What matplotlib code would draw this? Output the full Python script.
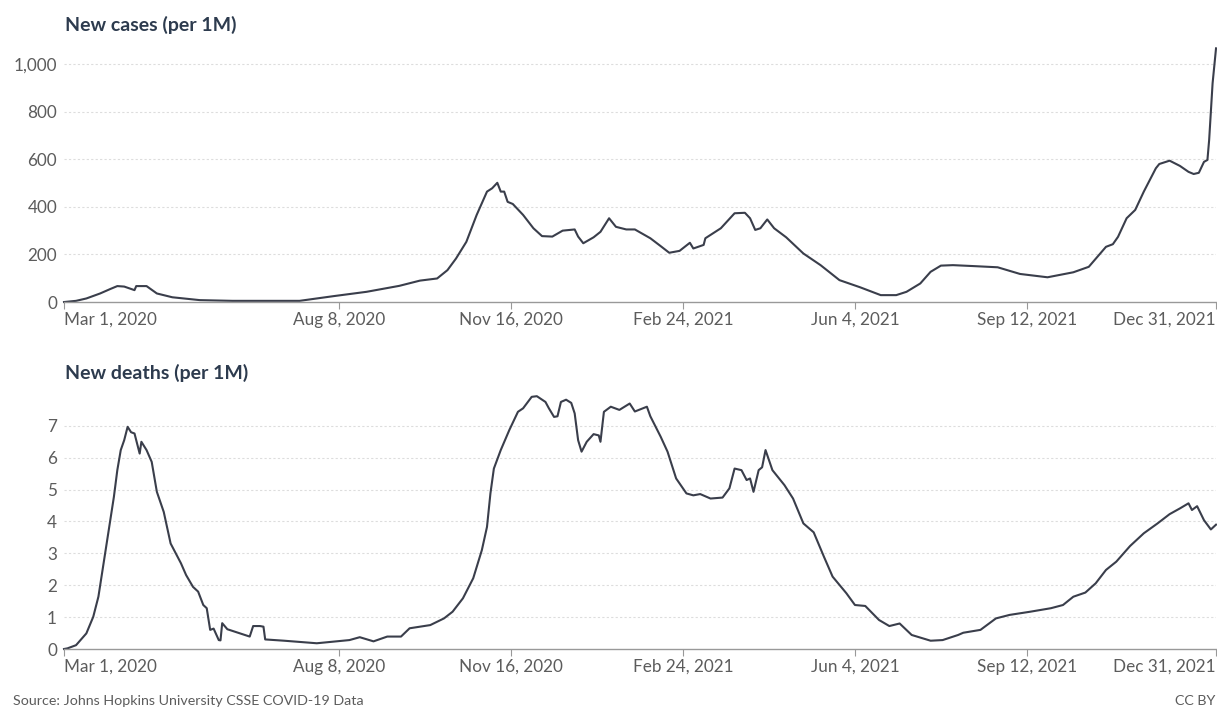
import numpy as np
import matplotlib
matplotlib.use("Agg")
import matplotlib.pyplot as plt
import matplotlib.dates as mdates

plt.rcParams["font.family"] = ["Lato", "DejaVu Sans"]

START = np.datetime64("2020-03-01")

# daily new cases per million, sampled at day offsets from Mar 1, 2020
case_days = [0, 7, 13, 21, 27, 31, 35, 41, 42, 48, 54, 63, 79, 98, 137, 157,
             176, 195, 207, 217, 223, 228, 234, 240, 246, 249, 252, 254, 256,
             258, 261, 267, 273, 278, 284, 290, 297, 299, 302, 308, 312, 317,
             321, 327, 332, 341, 347, 352, 358, 364, 366, 372, 373, 382, 390,
             396, 399, 402, 405, 409, 413, 420, 430, 440, 451, 463, 475, 484,
             490, 498, 504, 510, 517, 529, 543, 556, 572, 587, 596, 601, 606,
             610, 613, 618, 623, 628, 635, 637, 643, 649, 654, 657, 660, 663,
             665, 666, 668, 670]
case_values = [0, 5, 15, 36, 55, 67, 65, 50, 67, 67, 36, 20, 8, 5, 5, 25,
               43, 68, 90, 99, 134, 183, 253, 366, 464, 478, 501, 464, 464,
               421, 412, 366, 310, 277, 275, 300, 305, 275, 247, 272, 295, 352,
               316, 305, 305, 268, 235, 207, 215, 249, 225, 240, 268, 310, 373,
               375, 352, 303, 310, 347, 310, 272, 204, 155, 92, 62, 29, 29,
               43, 78, 127, 153, 155, 151, 146, 118, 104, 125, 148, 190, 232,
               243, 274, 352, 387, 464, 562, 580, 594, 572, 547, 538, 543, 589,
               597, 681, 919, 1066]

# daily new deaths per million
death_days = [0, 2, 7, 13, 17, 20, 23, 26, 29, 31, 33, 35, 36, 37, 39, 41, 44,
              45, 48, 51, 54, 58, 62, 68, 71, 75, 78, 81, 83, 85, 87, 90, 91,
              92, 95, 108, 110, 114, 116, 117, 128, 147, 166, 172, 180, 188,
              196, 201, 207, 213, 221, 226, 232, 238, 243, 246, 248, 250, 254,
              259, 264, 267, 272, 275, 280, 282, 285, 287, 289, 292, 295, 297,
              299, 301, 304, 308, 311, 312, 314, 318, 323, 329, 332, 339, 341,
              347, 351, 356, 362, 366, 370, 376, 383, 387, 390, 394, 397, 399,
              401, 404, 406, 408, 412, 419, 424, 430, 436, 442, 447, 455, 460,
              466, 474, 480, 486, 493, 504, 511, 520, 523, 533, 542, 550, 562,
              574, 581, 587, 594, 600, 606, 612, 620, 628, 636, 643, 649, 654,
              656, 659, 663, 667, 670]
death_values = [0, 0.02, 0.12, 0.49, 1.01, 1.64, 2.69, 3.73, 4.77, 5.61, 6.24,
                6.55, 6.76, 6.97, 6.8, 6.76, 6.13, 6.5, 6.24, 5.87, 4.93, 4.30,
                3.31, 2.69, 2.32, 1.95, 1.80, 1.38, 1.28, 0.60, 0.64, 0.28, 0.27,
                0.81, 0.62, 0.39, 0.72, 0.72, 0.70, 0.30, 0.26, 0.18, 0.28, 0.37,
                0.24, 0.39, 0.39, 0.65, 0.70, 0.75, 0.96, 1.17, 1.59, 2.22, 3.10,
                3.83, 4.88, 5.66, 6.24, 6.87, 7.44, 7.55, 7.91, 7.93, 7.75, 7.55,
                7.28, 7.3, 7.75, 7.82, 7.72, 7.39, 6.55, 6.19, 6.5, 6.74, 6.7,
                6.5, 7.44, 7.6, 7.5, 7.70, 7.45, 7.6, 7.3, 6.66, 6.19, 5.35, 4.88,
                4.82, 4.86, 4.72, 4.75, 5.04, 5.66, 5.61, 5.30, 5.35, 4.93, 5.61,
                5.7, 6.24, 5.61, 5.14, 4.72, 3.94, 3.66, 2.89, 2.27, 1.75, 1.38,
                1.35, 0.91, 0.72, 0.8, 0.44, 0.26, 0.28, 0.44, 0.51, 0.60, 0.96,
                1.07, 1.17, 1.28, 1.38, 1.64, 1.77, 2.06, 2.48, 2.74, 3.23, 3.63,
                3.94, 4.23, 4.41, 4.57, 4.36, 4.48, 4.04, 3.75, 3.9]

tick_dates = ["2020-03-01", "2020-08-08", "2020-11-16", "2021-02-24",
              "2021-06-04", "2021-09-12", "2021-12-31"]
tick_labels = ["Mar 1, 2020", "Aug 8, 2020", "Nov 16, 2020", "Feb 24, 2021",
               "Jun 4, 2021", "Sep 12, 2021", "Dec 31, 2021"]

case_yticks = [0, 200, 400, 600, 800, 1000]
case_ylabels = ["0", "200", "400", "600", "800", "1,000"]
death_yticks = [0, 1, 2, 3, 4, 5, 6, 7]

LINE = "#3a3e4b"
TEXT = "#5c5c5c"
TITLE = "#2d3b4e"

fig = plt.figure(figsize=(12.17, 7.11), dpi=100)
ax1 = fig.add_axes([0.0526, 0.5752, 0.9466, 0.3615])
ax2 = fig.add_axes([0.0526, 0.0872, 0.9466, 0.3587])


def style_panel(ax, yticks, ylabels, ymax):
    ax.set_xlim(mdates.date2num(np.datetime64("2020-03-01")),
                mdates.date2num(np.datetime64("2021-12-31")))
    ax.set_ylim(0, ymax)
    for side in ["top", "right", "left"]:
        ax.spines[side].set_visible(False)
    ax.spines["bottom"].set_color("#999999")
    ax.spines["bottom"].set_linewidth(1.0)
    ax.set_yticks(yticks)
    ax.set_yticklabels(ylabels)
    ax.tick_params(axis="y", length=0, pad=5, labelsize=12.3, labelcolor=TEXT)
    ax.set_xticks([mdates.date2num(np.datetime64(d)) for d in tick_dates])
    ax.set_xticklabels(tick_labels)
    ax.tick_params(axis="x", length=5, width=0.8, color="#999999", pad=2,
                   labelsize=12.3, labelcolor=TEXT)
    labels = ax.get_xticklabels()
    labels[0].set_ha("left")
    labels[-1].set_ha("right")
    for y in yticks[1:]:
        ax.axhline(y, color="#dddddd", linewidth=0.8, linestyle=(0, (2, 2)),
                   zorder=0)


case_x = mdates.date2num(START + np.array(case_days))
death_x = mdates.date2num(START + np.array(death_days))

ax1.plot(case_x, case_values, color=LINE, linewidth=1.5, clip_on=False)
style_panel(ax1, case_yticks, case_ylabels, 1080)

ax2.plot(death_x, death_values, color=LINE, linewidth=1.5, clip_on=False)
style_panel(ax2, death_yticks, [str(v) for v in death_yticks], 8)

fig.text(0.0534, 0.965, "New cases (per 1M)", fontsize=14, fontweight="bold",
         color=TITLE, va="center")
fig.text(0.0534, 0.475, "New deaths (per 1M)", fontsize=14, fontweight="bold",
         color=TITLE, va="center")
fig.text(0.011, 0.006, "Source: Johns Hopkins University CSSE COVID-19 Data",
         fontsize=10.3, color=TEXT, va="bottom")
fig.text(0.999, 0.006, "CC BY", fontsize=10.3, color=TEXT, va="bottom",
         ha="right")

fig.savefig("out.png", dpi=100)
